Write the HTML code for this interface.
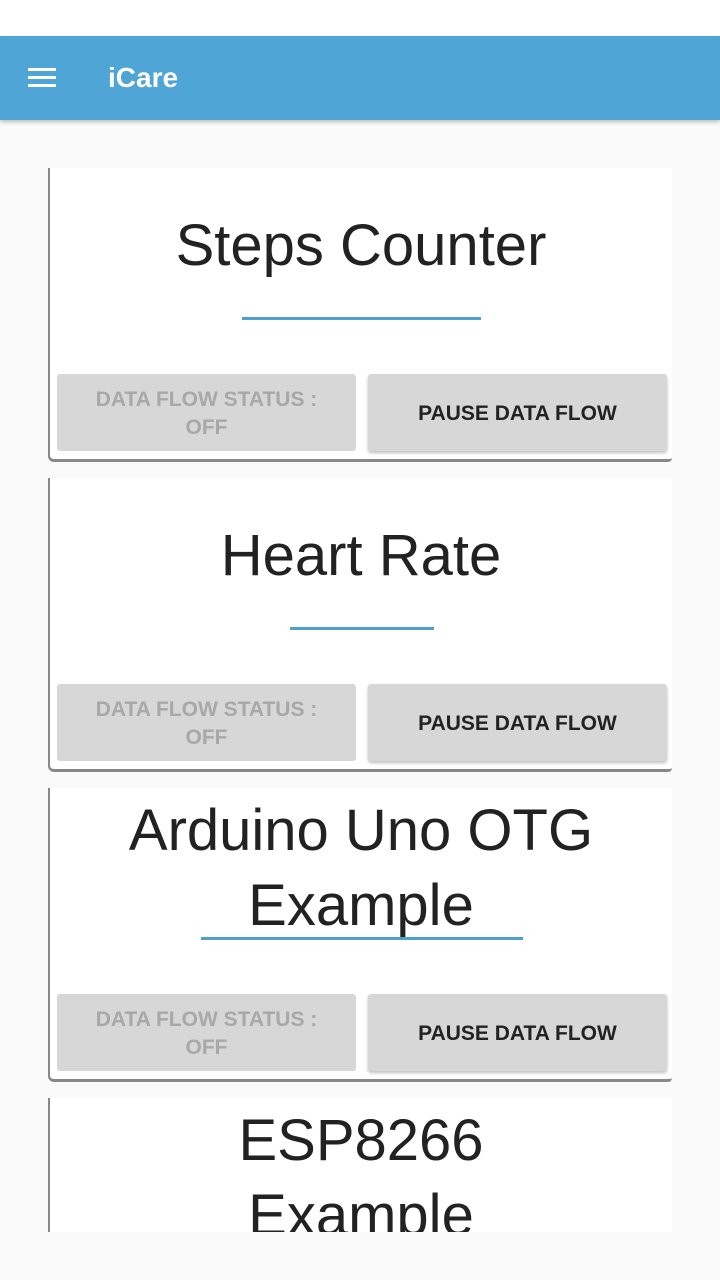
<!DOCTYPE html>
<html><head><meta charset="utf-8"><style>
*{margin:0;padding:0;box-sizing:border-box}
body{width:720px;height:1280px;position:relative;background:#fafafa;font-family:"Liberation Sans",Arial,sans-serif;overflow:hidden}
.status{position:absolute;left:0;top:0;width:720px;height:36px;background:#fff}
.bar{position:absolute;left:0;top:36px;width:720px;height:84px;background:#4fa5d6;box-shadow:0 2px 4px rgba(0,0,0,.25)}
.ham{position:absolute;left:28px;top:68px;width:28px;height:3px;background:#fff;box-shadow:0 8px 0 #fff,0 16px 0 #fff}
.ttl{position:absolute;left:108px;top:62px;color:#fff;font-size:28px;font-weight:bold}
.clip{position:absolute;left:0;top:120px;width:720px;height:1112px;overflow:hidden}
.card{position:absolute;left:48px;width:624px;background:#fff;border-left:2px solid #888;border-bottom:3px solid #888;border-radius:0 0 4px 6px;overflow:hidden}
.h{position:absolute;left:0;width:622px;text-align:center;color:#222;font-size:58px;line-height:75px}
.ul{position:absolute;height:3px;background:#4fa0d0}
.b{position:absolute;top:206px;height:77px;width:299px;background:#d6d7d6;border-radius:3px;display:flex;align-items:center;justify-content:center;text-align:center;font-size:21px;line-height:28px;font-weight:bold;padding-top:2px}
.b1{left:7px;color:#a8a8a8}
.b2{left:318px;color:#222;box-shadow:0 2px 3px rgba(0,0,0,.25)}
</style></head><body>
<div class="status"></div>
<div class="bar"></div><div class="ham"></div><div class="ttl">iCare</div>
<div class="clip">
<div class="card" style="top:48px;height:294px">
 <div class="h" style="top:40px">Steps Counter</div>
 <div class="ul" style="left:192px;width:239px;top:149px"></div>
 <div class="b b1">DATA FLOW STATUS :<br>OFF</div><div class="b b2">PAUSE DATA FLOW</div>
</div>
<div class="card" style="top:358px;height:294px">
 <div class="h" style="top:40px">Heart Rate</div>
 <div class="ul" style="left:240px;width:144px;top:149px"></div>
 <div class="b b1">DATA FLOW STATUS :<br>OFF</div><div class="b b2">PAUSE DATA FLOW</div>
</div>
<div class="card" style="top:668px;height:294px">
 <div class="h" style="top:5px">Arduino Uno OTG<br>Example</div>
 <div class="ul" style="left:151px;width:322px;top:149px"></div>
 <div class="b b1">DATA FLOW STATUS :<br>OFF</div><div class="b b2">PAUSE DATA FLOW</div>
</div>
<div class="card" style="top:978px;height:134px;border-bottom:none;border-radius:0">
 <div class="h" style="top:5px">ESP8266<br>Example</div>
</div>
</div>
</body></html>
